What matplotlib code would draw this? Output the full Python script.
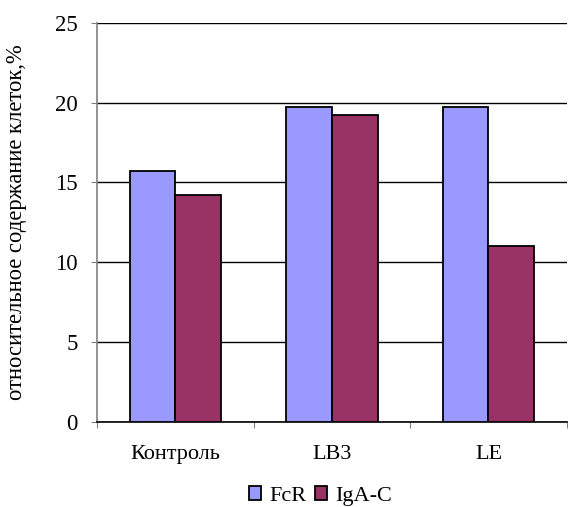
import numpy as np
import matplotlib.pyplot as plt

plt.rcParams['font.family'] = ['Liberation Serif', 'DejaVu Serif']

categories = ["Контроль", "LB3", "LE"]
fcr = [15.7, 19.7, 19.7]
iga = [14.2, 19.2, 11.0]
series_names = ["FcR", "IgA-C"]

fig = plt.figure(figsize=(5.68, 5.07), dpi=100)
ax = fig.add_axes([0.1708, 0.168, 0.827, 0.787])

x = np.arange(len(categories))
w = 0.292
ax.bar(x - w/2, fcr, w, color='#9999FF', edgecolor='black', linewidth=1.3,
       label=series_names[0], zorder=3)
ax.bar(x + w/2, iga, w, color='#993366', edgecolor='black', linewidth=1.3,
       label=series_names[1], zorder=3)

ax.set_xlim(-0.5, len(categories) - 0.5)
ax.set_ylim(0, 25)
ax.set_yticks(np.arange(0, 26, 5))
ax.yaxis.grid(True, color='black', linewidth=1)
ax.set_axisbelow(True)

# category labels sit between the boundary ticks
ax.set_xticks(np.arange(-0.5, len(categories), 1))
ax.set_xticklabels([])
ax.set_xticks(x, minor=True)
ax.set_xticklabels(categories, minor=True)
ax.tick_params(axis='x', which='minor', length=0, pad=17, labelsize=16)
ax.tick_params(axis='x', which='major', length=4.5, color='#808080', direction='out')
ax.tick_params(axis='y', length=4.5, color='#808080', labelsize=16.5, pad=9.5)

for s in ['top', 'right']:
    ax.spines[s].set_visible(False)
ax.spines['left'].set_color('#808080')
ax.spines['left'].set_linewidth(1.2)
ax.spines['bottom'].set_color('black')
ax.spines['bottom'].set_linewidth(1.2)

ax.set_ylabel("относительное содержание клеток,%", fontsize=16.3)
ax.yaxis.set_label_coords(-0.149, 0.5)

ax.legend(loc='center', bbox_to_anchor=(0.476, -0.186), ncol=2, frameon=False,
          fontsize=16, handlelength=0.55, handleheight=0.55, handletextpad=0.35,
          columnspacing=0.4)

plt.savefig("out.png", dpi=100)
